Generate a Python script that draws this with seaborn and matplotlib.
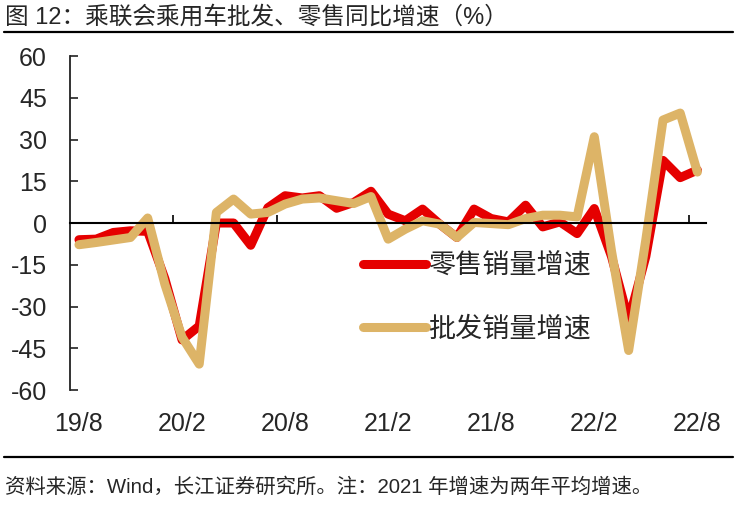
import numpy as np
import pandas as pd
import matplotlib.pyplot as plt
import seaborn as sns

# ==========================================
# DATA (monthly YoY %, 2019/8 - 2022/8)
# ==========================================
retail = [-6, -5.8, -3.4, -2.8, -3, -20, -42, -37, 0, 0,
          -8, 5.5, 9.8, 9, 9.8, 5.3, 7.4, 11.4, 3.2, 0.8,
          5, -0.4, -5.2, 5, 1.6, 0.4, 6.4, -1.4, 0.4, -3.8,
          5.2, -12, -35, -12, 22.5, 16.3, 19]
wholesale = [-7.8, -7, -6.1, -5.2, 1.8, -22, -41, -50.7, 3.8, 8.6,
             3.2, 3.8, 6.8, 8.6, 9, 8, 7, 9.5, -5.8, -2.2,
             0.8, -0.4, -5.2, 0.2, -0.2, -0.6, 1.6, 2.8, 2.8, 2.2,
             31, -10, -45.8, -6, 37, 39.5, 18.3]
tick_labels = ["19/8", "20/2", "20/8", "21/2", "21/8", "22/2", "22/8"]
series_names = ["零售销量增速", "批发销量增速"]

months = np.arange(len(retail))

# ==========================================
# STYLE
# ==========================================
sns.set_style("white")
plt.rcParams['font.family'] = ['Liberation Sans', 'Noto Sans CJK SC']
plt.rcParams['axes.unicode_minus'] = False

red = "#E50000"
tan = "#DDB467"

fig = plt.figure(figsize=(7.4, 5.05), dpi=100)
ax = fig.add_axes([0.0951, 0.2277, 0.8589, 0.6614])

sns.lineplot(x=months, y=retail, ax=ax, color=red, lw=6.5, label=series_names[0],
             solid_capstyle='round', solid_joinstyle='round')
sns.lineplot(x=months, y=wholesale, ax=ax, color=tan, lw=6.5, label=series_names[1],
             solid_capstyle='round', solid_joinstyle='round')

ax.set_xlim(-0.5, 36.5)
ax.set_ylim(-60, 60)

# axes: y spine on left, x axis line through zero
ax.spines['top'].set_visible(False)
ax.spines['right'].set_visible(False)
ax.spines['left'].set_linewidth(1.3)
ax.spines['left'].set_color('#222222')
ax.spines['bottom'].set_position(('data', 0))
ax.spines['bottom'].set_linewidth(1.5)
ax.spines['bottom'].set_color('black')

ax.set_yticks(range(-60, 61, 15))
ax.tick_params(axis='y', left=True, direction='in', length=6, width=1.2,
               color='#222222', labelsize=18, pad=17)
ax.set_xticks([5.5, 11.5, 17.5, 23.5, 29.5, 35.5])
ax.tick_params(axis='x', bottom=True, direction='in', length=6, width=1.2,
               color='black', labelbottom=False)

# category labels at the bottom of the plot
sec = ax.secondary_xaxis('bottom')
sec.set_xticks(range(0, 37, 6), labels=tick_labels)
sec.tick_params(length=0, labelsize=18, pad=16)
sec.spines['bottom'].set_visible(False)

ax.set_xlabel('')
ax.set_ylabel('')

leg = ax.legend(loc='center left', bbox_to_anchor=(0.491, 0.41),
                bbox_transform=fig.transFigure, frameon=False,
                fontsize=19.5, handlelength=2.3, handletextpad=0.1,
                labelspacing=1.35, borderpad=0, borderaxespad=0)

# title, rules and source note
fig.text(0.007, 1 - 17 / 505, "图 12：乘联会乘用车批发、零售同比增速（%）",
         fontsize=17, va='center', ha='left')
fig.add_artist(plt.Line2D([4 / 740, 733 / 740], [1 - 32 / 505] * 2, color='black', lw=1.6))
fig.add_artist(plt.Line2D([4 / 740, 733 / 740], [48 / 505] * 2, color='black', lw=1.6))
fig.text(0.007, 18 / 505, "资料来源：Wind，长江证券研究所。注：2021 年增速为两年平均增速。",
         fontsize=14.7, va='center', ha='left')

fig.savefig("out.png", dpi=100)
